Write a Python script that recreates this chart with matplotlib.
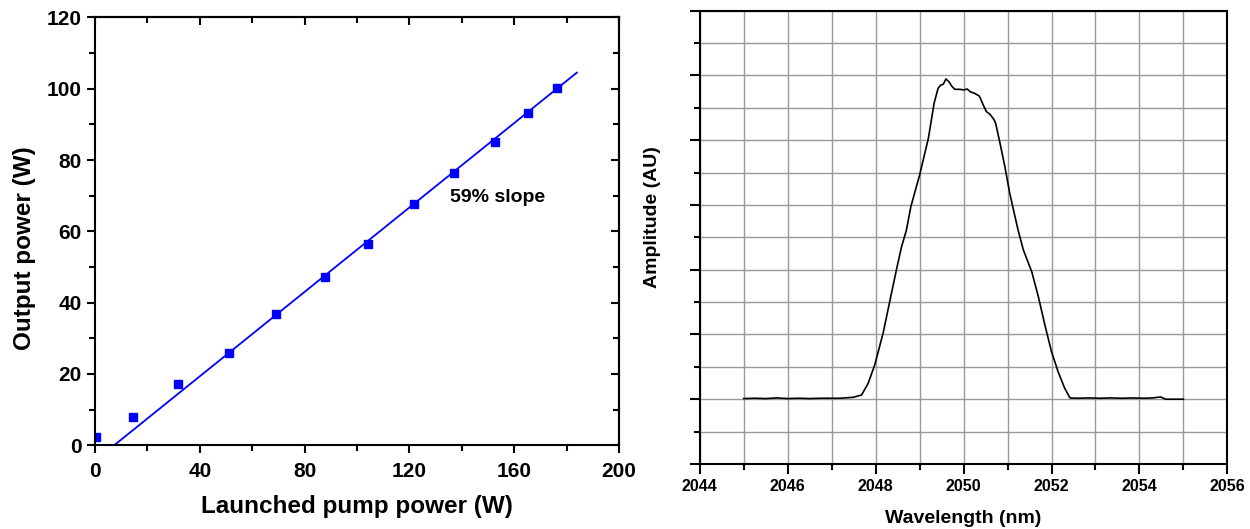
import matplotlib.pyplot as plt
from matplotlib.ticker import MultipleLocator

plt.rcParams['font.family'] = ['Liberation Sans', 'DejaVu Sans']
plt.rcParams['font.weight'] = 'bold'

# left panel: output power vs launched pump power
pump_w = [0.4, 14.4, 31.8, 51.3, 68.9, 87.6, 104.1, 121.8, 137.2, 152.8, 165.2, 176.4]
output_w = [2.4, 7.9, 17.2, 25.9, 36.8, 47.2, 56.5, 67.8, 76.4, 85.1, 93.1, 100.1]
fit_x = [7.3, 183.9]
fit_y = [0.0, 104.5]

# right panel: spectrum (traced), amplitude in grid units
wl_nm = [2045.0, 2045.25, 2045.5, 2045.75, 2046.0, 2046.25, 2046.5, 2046.75,
         2047.0, 2047.19, 2047.49, 2047.68, 2047.83, 2047.98, 2048.17, 2048.36,
         2048.48, 2048.59, 2048.7, 2048.8, 2049.0, 2049.2, 2049.33, 2049.42,
         2049.48, 2049.54, 2049.6, 2049.67, 2049.73, 2049.8, 2049.92, 2050.01,
         2050.08, 2050.16, 2050.26, 2050.36, 2050.45, 2050.52, 2050.6, 2050.69,
         2050.73, 2050.83, 2050.94, 2051.05, 2051.17, 2051.24, 2051.36, 2051.55,
         2051.7, 2051.85, 2052.0, 2052.15, 2052.3, 2052.42, 2052.6, 2052.85,
         2053.1, 2053.35, 2053.6, 2053.85, 2054.1, 2054.3, 2054.48, 2054.6,
         2054.8, 2055.0]
amp = [2.02, 2.03, 2.02, 2.04, 2.02, 2.03, 2.02, 2.03,
       2.03, 2.03, 2.06, 2.13, 2.49, 3.06, 4.04, 5.27,
       6.04, 6.71, 7.22, 7.94, 8.92, 10.06, 11.14, 11.6,
       11.7, 11.73, 11.89, 11.8, 11.67, 11.57, 11.57, 11.55,
       11.58, 11.49, 11.44, 11.36, 11.08, 10.88, 10.8, 10.64,
       10.52, 9.9, 9.18, 8.36, 7.64, 7.22, 6.61, 5.94,
       5.17, 4.29, 3.47, 2.85, 2.34, 2.04, 2.03, 2.04,
       2.03, 2.04, 2.03, 2.04, 2.03, 2.04, 2.07, 2.0,
       2.0, 2.0]

fig = plt.figure(figsize=(12.5, 5.29), dpi=100)

ax1 = fig.add_axes([0.076, 0.1582, 0.4192, 0.809])
ax1.plot(fit_x, fit_y, color='#0000ff', lw=1.3)
ax1.plot(pump_w, output_w, ls='', marker='s', ms=6.2, color='#0000ff')
ax1.set_xlim(0, 200)
ax1.set_ylim(0, 120)
ax1.xaxis.set_major_locator(MultipleLocator(40))
ax1.xaxis.set_minor_locator(MultipleLocator(20))
ax1.yaxis.set_major_locator(MultipleLocator(20))
ax1.yaxis.set_minor_locator(MultipleLocator(10))
ax1.tick_params(which='both', direction='out', top=False, right=False, width=1.5, labelsize=15)
ax1.tick_params(which='major', length=6)
ax1.tick_params(which='minor', length=4)
ax1.tick_params(axis='x', pad=6)
# mirrored ticks on top/right point inward
sec_x = ax1.secondary_xaxis('top')
sec_x.xaxis.set_major_locator(MultipleLocator(40))
sec_x.xaxis.set_minor_locator(MultipleLocator(20))
sec_x.tick_params(which='both', direction='in', width=1.5, labeltop=False)
sec_x.tick_params(which='major', length=6)
sec_x.tick_params(which='minor', length=4)
sec_y = ax1.secondary_yaxis('right')
sec_y.yaxis.set_major_locator(MultipleLocator(20))
sec_y.yaxis.set_minor_locator(MultipleLocator(10))
sec_y.tick_params(which='both', direction='in', width=1.5, labelright=False)
sec_y.tick_params(which='major', length=6)
sec_y.tick_params(which='minor', length=4)
for s in ax1.spines.values():
    s.set_linewidth(1.5)
sec_x.spines['top'].set_linewidth(1.5)
sec_y.spines['right'].set_linewidth(1.5)
ax1.set_xlabel('Launched pump power (W)', fontsize=17.5, fontweight='bold', labelpad=10)
ax1.set_ylabel('Output power (W)', fontsize=17.5, fontweight='bold')
ax1.yaxis.set_label_coords(-0.113, 0.46)
ax1.text(135.5, 69.5, '59% slope', fontsize=14, fontweight='bold', va='center')

ax2 = fig.add_axes([0.5598, 0.1229, 0.4221, 0.857])
ax2.plot(wl_nm, amp, color='black', lw=1.2)
ax2.set_xlim(2044, 2056)
ax2.set_ylim(0, 14)
ax2.xaxis.set_major_locator(MultipleLocator(2))
ax2.xaxis.set_minor_locator(MultipleLocator(1))
ax2.yaxis.set_major_locator(MultipleLocator(2))
ax2.yaxis.set_minor_locator(MultipleLocator(1))
ax2.set_yticklabels([])
ax2.grid(which='both', color='#9a9a9a', lw=1.0)
ax2.set_axisbelow(True)
ax2.tick_params(which='both', direction='out', width=1.5, labelsize=11.5)
ax2.tick_params(which='major', length=7)
ax2.tick_params(which='minor', length=4)
ax2.tick_params(axis='y', which='minor', labelleft=False)
for s in ax2.spines.values():
    s.set_linewidth(1.5)
ax2.set_xlabel('Wavelength (nm)', fontsize=14, fontweight='bold', labelpad=12)
ax2.set_ylabel('Amplitude (AU)', fontsize=14, fontweight='bold')
ax2.yaxis.set_label_coords(-0.074, 0.545)

fig.savefig('out.png', dpi=100)
